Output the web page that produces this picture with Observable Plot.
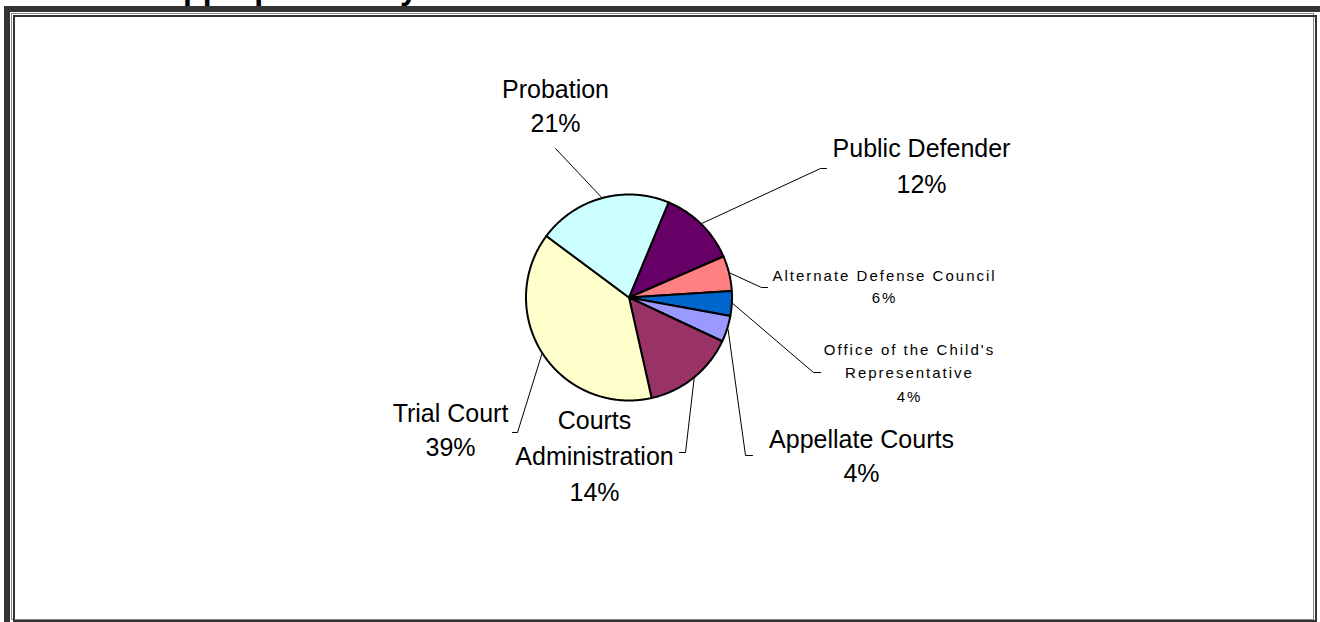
<!DOCTYPE html>
<html>
<head>
<meta charset="utf-8">
<script src="https://cdn.jsdelivr.net/npm/d3@7"></script>
<script src="https://cdn.jsdelivr.net/npm/@observablehq/plot@0.6"></script>
<style>
html, body { margin: 0; padding: 0; background: #fff; overflow: hidden; }
#wrap { position: relative; width: 1320px; height: 622px; overflow: hidden; background: #fff; }
#chart { position: absolute; left: 0; top: 0; }
#title { position: absolute; left: 160px; top: -28px; font: bold 32px "Liberation Sans", Arial, sans-serif; line-height: 1; white-space: nowrap; color: #000; }
.fr { position: absolute; box-sizing: border-box; pointer-events: none; }
#outer { left: 4px; top: 6px; width: 1400px; height: 700px; border-left: 6px solid #333; border-top: 6px solid #333; }
#gray { left: 11px; top: 13px; width: 1303px; height: 607px; border: 1px solid #8a8a8a; }
#dark { left: 13px; top: 15px; width: 1304px; height: 607px; border: 2px solid #333; }
</style>
</head>
<body>
<div id="wrap">
  <div id="chart"></div>
  <div id="title">Appropriation by</div>
  <div class="fr" id="outer"></div>
  <div class="fr" id="gray"></div>
  <div class="fr" id="dark"></div>
</div>
<script>
// ---- data ----
const categories = ["Public Defender", "Alternate Defense Council", "Office of the Child's Representative", "Appellate Courts", "Courts Administration", "Trial Court", "Probation"];
const values = [12.2, 5.5, 3.9, 4.1, 14.5, 38.7, 21.1];
const sliceColors = ["#660066", "#FF8080", "#0066CC", "#9999FF", "#993366", "#FFFFCC", "#CCFFFF"];
const nameLines = [["Public Defender"], ["Alternate Defense Council"], ["Office of the Child's", "Representative"], ["Appellate Courts"], ["Courts", "Administration"], ["Trial Court"], ["Probation"]];
const percentLabels = ["12%", "6%", "4%", "4%", "14%", "39%", "21%"];

// ---- layout (pixel units of the plot's x/y scales) ----
const W = 1320, H = 622;
const pieLayout = {cx: 628.5, cy: 297, r: 103, startDeg: 22.6};
const labelLayout = [
  {x: 921, y: 192.7, size: 25, lh: 1.44, elbow: [820, 168], end: [826, 168]},
  {x: 884, y: 302.7, size: 15, lh: 1.45, elbow: [761, 287], end: [767, 287]},
  {x: 909, y: 401, size: 15, lh: 1.55, elbow: [813, 372], end: [820, 372]},
  {x: 861, y: 481.5, size: 25, lh: 1.36, elbow: [745, 455], end: [752, 455]},
  {x: 594, y: 500, size: 25, lh: 1.44, elbow: [685, 452], end: [679, 452]},
  {x: 450, y: 455, size: 25, lh: 1.33, elbow: [517, 432], end: [512, 432]},
  {x: 555, y: 131.7, size: 25, lh: 1.36, elbow: [555, 148], end: [555, 148]}
];

const a0 = pieLayout.startDeg * Math.PI / 180;
const arcs = d3.pie().sort(null).value(d => d).startAngle(a0).endAngle(a0 + 2 * Math.PI)(values);
const px = (a, r = pieLayout.r) => pieLayout.cx + r * Math.sin(a);
const py = (a, r = pieLayout.r) => pieLayout.cy - r * Math.cos(a);

const slicePts = [];
arcs.forEach((a, i) => {
  slicePts.push({name: categories[i], x: pieLayout.cx, y: pieLayout.cy});
  const n = Math.max(2, Math.ceil((a.endAngle - a.startAngle) / (Math.PI / 360)));
  for (let k = 0; k <= n; k++) {
    const t = a.startAngle + (a.endAngle - a.startAngle) * k / n;
    slicePts.push({name: categories[i], x: px(t), y: py(t)});
  }
});

const leaderPts = [];
arcs.forEach((a, i) => {
  const m = (a.startAngle + a.endAngle) / 2;
  const L = labelLayout[i];
  leaderPts.push({name: categories[i], x: px(m, pieLayout.r + 1), y: py(m, pieLayout.r + 1)});
  leaderPts.push({name: categories[i], x: L.elbow[0], y: L.elbow[1]});
  leaderPts.push({name: categories[i], x: L.end[0], y: L.end[1]});
});

const textMarks = categories.map((c, i) => {
  const L = labelLayout[i];
  return Plot.text([{x: L.x, y: L.y, t: nameLines[i].concat([percentLabels[i]]).join("\n")}], {
    x: "x", y: "y", text: "t", lineAnchor: "bottom", textAnchor: "middle",
    fontSize: L.size, lineHeight: L.lh, fill: "#000",
    fontFamily: "Liberation Sans, Arial, sans-serif"
  });
});

const svg = Plot.plot({
  width: W, height: H, margin: 0,
  x: {domain: [0, W], axis: null},
  y: {domain: [0, H], reverse: true, axis: null},
  color: {domain: categories, range: sliceColors},
  style: {background: "#fff", overflow: "visible"},
  marks: [
    Plot.line(slicePts, {x: "x", y: "y", z: "name", fill: "name", stroke: "#000", strokeWidth: 2, strokeLinejoin: "round", curve: "linear-closed"}),
    Plot.line(leaderPts, {x: "x", y: "y", z: "name", stroke: "#000", strokeWidth: 1}),
    ...textMarks
  ]
});
d3.select(svg).selectAll('g[font-size="15"]').attr("letter-spacing", "2px");
document.getElementById("chart").appendChild(svg);
</script>
</body>
</html>
